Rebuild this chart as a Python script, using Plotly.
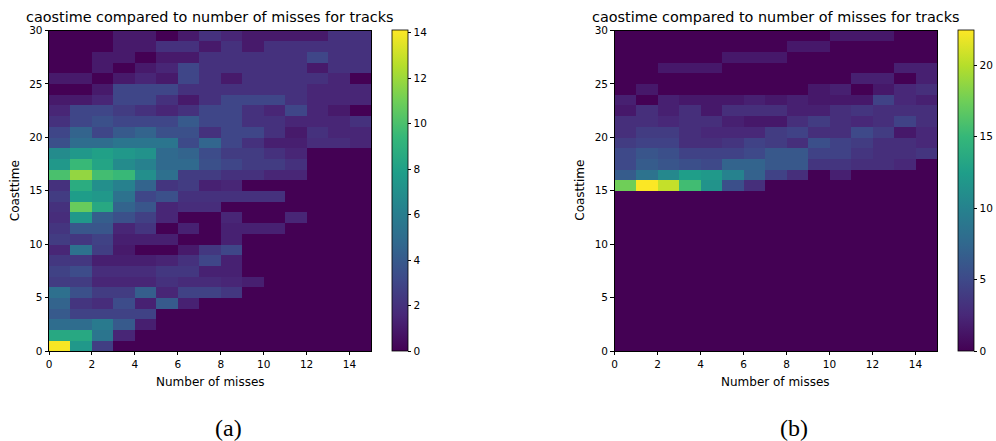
import plotly.graph_objects as go

# ---------------- data ----------------
misses_bins = [0.5, 1.5, 2.5, 3.5, 4.5, 5.5, 6.5, 7.5, 8.5, 9.5, 10.5, 11.5, 12.5, 13.5, 14.5]
coast_bins = [0.5, 1.5, 2.5, 3.5, 4.5, 5.5, 6.5, 7.5, 8.5, 9.5,
              10.5, 11.5, 12.5, 13.5, 14.5, 15.5, 16.5, 17.5, 18.5, 19.5,
              20.5, 21.5, 22.5, 23.5, 24.5, 25.5, 26.5, 27.5, 28.5, 29.5]

x_ticks = [0, 2, 4, 6, 8, 10, 12, 14]
y_ticks = [0, 5, 10, 15, 20, 25, 30]
cbar_a_ticks = [0, 2, 4, 6, 8, 10, 12, 14]
cbar_b_ticks = [0, 5, 10, 15, 20]

# rows = coasttime bins 0..29, columns = number-of-misses bins 0..14
counts_a = [
    [14, 7.5, 2.6, 0, 0, 0, 0, 0, 0, 0, 0, 0, 0, 0, 0],
    [8.5, 8.5, 5.5, 1.5, 0, 0, 0, 0, 0, 0, 0, 0, 0, 0, 0],
    [5, 5, 5.8, 4, 1.2, 0, 0, 0, 0, 0, 0, 0, 0, 0, 0],
    [4, 2.8, 2.8, 2.8, 2.8, 0, 0, 0, 0, 0, 0, 0, 0, 0, 0],
    [4.5, 2.2, 1.8, 3.3, 1.3, 4, 1.3, 0, 0, 0, 0, 0, 0, 0, 0],
    [5.2, 3.5, 2.5, 2.5, 4.2, 1.5, 2.8, 2.8, 2.3, 0, 0, 0, 0, 0, 0],
    [2.5, 2.5, 1.5, 1.5, 1.5, 2, 1.7, 1.7, 1.5, 1.2, 0, 0, 0, 0, 0],
    [2.8, 3.3, 1.8, 1.8, 1.8, 2.3, 2.3, 1.3, 1.3, 0, 0, 0, 0, 0, 0],
    [2.3, 2.3, 1.2, 1.2, 1.2, 1.4, 2, 3, 1.3, 0, 0, 0, 0, 0, 0],
    [1.5, 5.3, 2.6, 1, 0, 0, 1, 2.3, 3, 0, 0, 0, 0, 0, 0],
    [2.5, 2.3, 2.8, 1.2, 1.2, 1.2, 0, 0, 1.3, 0, 0, 0, 0, 0, 0],
    [2.2, 3.8, 3.8, 1.5, 2.2, 0, 1.3, 0, 1.3, 1.3, 1.3, 0, 0, 0, 0],
    [1.8, 7.5, 4.2, 3.5, 2.7, 1.5, 0, 0, 1.5, 0, 0, 1.5, 0, 0, 0],
    [2, 10.8, 8.5, 4.5, 3.8, 1.5, 1.8, 1.8, 0, 0, 0, 0, 0, 0, 0],
    [2.5, 7.8, 7.5, 5.3, 3, 3.5, 2, 2, 2, 2, 2, 0, 0, 0, 0],
    [2, 8.7, 7, 6.2, 4.5, 2.2, 2.5, 1.3, 1.5, 0, 0, 0, 0, 0, 0],
    [10, 11.8, 9.8, 9.5, 7, 5.2, 2.5, 2.5, 2, 2, 1.5, 1.5, 0, 0, 0],
    [7.5, 9.5, 8.2, 6.8, 6.2, 4.8, 4.8, 3.5, 3, 2.5, 2.5, 2, 0, 0, 0],
    [6.8, 7.5, 8, 7.5, 7.2, 4.8, 4.5, 3.3, 2.5, 2.5, 2, 1.5, 0, 0, 0],
    [3.5, 5, 5, 5.5, 5.5, 5.5, 3.2, 4.6, 3, 2, 1.2, 1.2, 1.8, 1.8, 1.5],
    [3, 4.5, 3, 4, 4.5, 3.5, 3.5, 2, 3, 3, 2, 1, 2, 1.5, 1.5],
    [2, 3, 3.5, 3, 3, 3, 4, 3, 3, 2, 2, 1.5, 1.5, 1.5, 2],
    [1.5, 3, 3, 2.5, 2, 1.5, 2, 3, 3, 2, 1.5, 3, 1.5, 1, 0],
    [1, 1, 1.5, 3, 3, 2, 1, 2, 3, 3, 3, 2, 1.5, 1.5, 1.5],
    [0, 0, 1, 3, 3, 3, 2, 2, 2, 2, 2, 2, 1.5, 1.5, 1.5],
    [1, 1, 0, 1, 1.5, 1, 3, 2, 1, 2, 2, 2, 2, 1.5, 0],
    [0, 0, 1, 0, 1, 1.5, 3, 2, 2, 2, 2, 2, 1, 2, 2],
    [0, 0, 1, 1, 0, 1, 1, 2, 2, 2, 2, 2, 3, 2, 2],
    [0, 0, 0, 1, 1, 2, 2, 1, 2, 1, 2, 2, 2, 2, 2],
    [0, 0, 0, 1, 1, 0, 1, 2, 1.5, 1, 1, 1, 1, 2, 2],
]

zero_row = [0, 0, 0, 0, 0, 0, 0, 0, 0, 0, 0, 0, 0, 0, 0]
counts_b = [list(zero_row) for _ in range(15)] + [
    [17.5, 22.4, 20.5, 15.5, 11.5, 5.5, 3, 0, 0, 0, 0, 0, 0, 0, 0],
    [6.5, 8.5, 10.5, 12.5, 12, 10, 7, 4.5, 3, 0, 2, 0, 0, 0, 0],
    [5, 6.5, 6, 5.5, 5, 7.2, 7.2, 6.2, 6.2, 3.5, 3.5, 3, 3, 2.5, 0],
    [5, 6, 5.5, 4.5, 4.5, 4.5, 5, 6.2, 6.2, 4.5, 4.5, 3.5, 3, 3, 3.5],
    [4, 4.5, 4.5, 3, 3, 3.5, 4.5, 4, 3, 5.5, 4.5, 4, 3, 3, 2.5],
    [3, 4, 4, 3, 2.5, 2.5, 2.5, 4, 4.5, 3, 3, 5, 4, 1.5, 2.5],
    [3, 3, 2.5, 3, 3, 2, 1.5, 1.5, 3, 4, 3, 2.5, 3, 4.5, 3],
    [1.5, 3, 2, 3, 1.5, 3, 3, 3, 2, 2, 3, 3.5, 3, 3, 3],
    [2, 0, 2, 1.5, 1.5, 1.5, 2, 1.5, 2, 1.5, 1.5, 1.5, 4.5, 2.5, 2],
    [0, 1.5, 0, 0, 0, 0, 0, 0, 0, 1.5, 2, 0, 1.5, 2.5, 3],
    [0, 0, 0, 0, 0, 0, 0, 0, 0, 0, 0, 2, 2, 0, 2],
    [0, 0, 1.5, 1.5, 1.5, 0, 0, 0, 0, 0, 0, 0, 0, 2, 2],
    [0, 0, 0, 0, 0, 1.5, 1.5, 1.5, 0, 0, 0, 0, 0, 0, 0],
    [0, 0, 0, 0, 0, 0, 0, 0, 1.5, 1.5, 0, 0, 0, 0, 0],
    [0, 0, 0, 0, 0, 0, 0, 0, 0, 0, 1.5, 1.5, 1.5, 0, 0],
]

zmax_a = 14.12
zmax_b = 22.47

title_text = "caostime compared to number of misses for tracks"
x_label = "Number of misses"
y_label = "Coasttime"
panel_labels = ["(a)", "(b)"]

# ---------------- layout geometry (pixels) ----------------
W, H = 996, 441
def px(x):
    return x / W
def py(y):
    return 1 - y / H

plot_top, plot_bot = 30.5, 351.0
panels = [
    dict(x0=49.0, x1=371.0, cb=391.7),
    dict(x0=614.5, x1=937.0, cb=957.7),
]
FONT = "DejaVu Sans"
TXT = "black"

fig = go.Figure()

datasets = [(counts_a, zmax_a, cbar_a_ticks), (counts_b, zmax_b, cbar_b_ticks)]
for i, ((z, zmax, cticks), p) in enumerate(zip(datasets, panels)):
    xa = "x" if i == 0 else "x2"
    ya = "y" if i == 0 else "y2"
    fig.add_trace(go.Heatmap(
        x=misses_bins, y=coast_bins, z=z,
        colorscale="Viridis", zmin=0, zmax=zmax,
        xaxis=xa, yaxis=ya,
        colorbar=dict(
            x=px(p["cb"]), xanchor="left", xpad=0,
            y=py(plot_bot), yanchor="bottom", ypad=0,
            len=(plot_bot - plot_top) / H, lenmode="fraction",
            thickness=15.6, thicknessmode="pixels",
            outlinewidth=0.8, outlinecolor="black",
            ticks="outside", ticklen=3.5, tickwidth=0.8, tickcolor="black",
            tickvals=cticks,
            tickfont=dict(family=FONT, size=10.5, color=TXT),
        ),
    ))

axis_common = dict(
    showgrid=False, zeroline=False,
    showline=True, mirror=True, linecolor="black", linewidth=0.8,
    ticks="outside", ticklen=3.5, tickwidth=0.8, tickcolor="black",
    tickfont=dict(family=FONT, size=10.5, color=TXT),
)

for i, p in enumerate(panels):
    sfx = "" if i == 0 else "2"
    fig.layout["xaxis" + sfx] = dict(
        domain=[px(p["x0"]), px(p["x1"])], range=[0, 15], tickvals=x_ticks,
        anchor="y" + sfx, automargin=False, **axis_common)
    fig.layout["yaxis" + sfx] = dict(
        domain=[py(plot_bot), py(plot_top)], range=[0, 30], tickvals=y_ticks,
        anchor="x" + sfx, automargin=False, **axis_common)

    cx = (p["x0"] + p["x1"]) / 2
    fig.add_annotation(text=title_text, x=px(cx), y=py(17.5), xref="paper", yref="paper",
                       showarrow=False, xanchor="center", yanchor="middle",
                       font=dict(family=FONT, size=14.4, color=TXT))
    fig.add_annotation(text=x_label, x=px(cx), y=py(381.5), xref="paper", yref="paper",
                       showarrow=False, xanchor="center", yanchor="middle",
                       font=dict(family=FONT, size=12, color=TXT))
    fig.add_annotation(text=y_label, x=px(p["x0"] - 34.5), y=py((plot_top + plot_bot) / 2),
                       xref="paper", yref="paper", textangle=-90,
                       showarrow=False, xanchor="center", yanchor="middle",
                       font=dict(family=FONT, size=12, color=TXT))
    fig.add_annotation(text=panel_labels[i], x=px(cx + 18), y=py(427.5), xref="paper", yref="paper",
                       showarrow=False, xanchor="center", yanchor="middle",
                       font=dict(family="Liberation Serif", size=24, color=TXT))

fig.update_layout(
    width=W, height=H,
    margin=dict(l=0, r=0, t=0, b=0, autoexpand=False),
    paper_bgcolor="white", plot_bgcolor="white",
    showlegend=False,
)

fig.write_html("out.html")
